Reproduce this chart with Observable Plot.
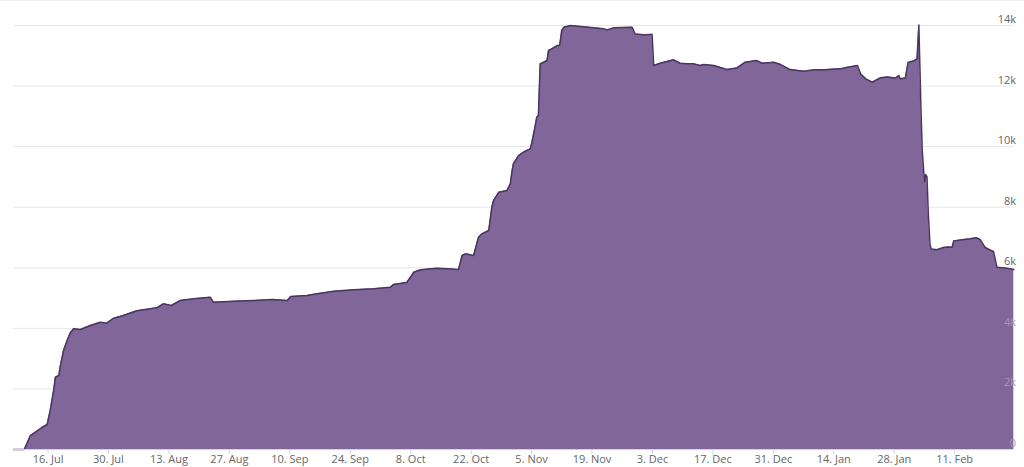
<!DOCTYPE html>
<html>
<head>
<meta charset="utf-8">
<script src="https://cdn.jsdelivr.net/npm/d3@7"></script>
<script src="https://cdn.jsdelivr.net/npm/@observablehq/plot@0.6"></script>
<style>
  html, body { margin: 0; padding: 0; background: #fff; }
  #chart { position: relative; width: 1024px; height: 467px; overflow: hidden; }
  #chart svg { display: block; }
  #topline { position: absolute; left: 0; right: 0; top: 0; height: 1px; background: #ececec; }
</style>
</head>
<body>
<div id="chart"><div id="topline"></div></div>
<script>
// Series timestamps (UTC)
const dates = [
  "2018-07-08T00:00","2018-07-10T12:00","2018-07-11T22:00","2018-07-13T02:00","2018-07-14T14:00",
  "2018-07-15T19:00","2018-07-16T12:00","2018-07-17T07:00","2018-07-17T17:00","2018-07-18T12:00",
  "2018-07-18T19:00","2018-07-19T14:00","2018-07-20T10:00","2018-07-21T02:00","2018-07-21T22:00",
  "2018-07-23T12:00","2018-07-25T19:00","2018-07-28T02:00","2018-07-29T14:00","2018-07-31T02:00",
  "2018-08-02T10:00","2018-08-05T14:00","2018-08-10T05:00","2018-08-11T17:00","2018-08-13T14:00",
  "2018-08-15T14:00","2018-08-18T17:00","2018-08-22T14:00","2018-08-23T07:00","2018-08-28T00:00",
  "2018-09-01T14:00","2018-09-05T22:00","2018-09-09T10:00","2018-09-10T05:00","2018-09-14T00:00",
  "2018-09-16T07:00","2018-09-20T05:00","2018-09-24T19:00","2018-09-29T10:00","2018-10-03T07:00",
  "2018-10-04T00:00","2018-10-07T02:00","2018-10-08T02:00","2018-10-08T17:00","2018-10-10T07:00",
  "2018-10-14T02:00","2018-10-16T10:00","2018-10-19T02:00","2018-10-19T22:00","2018-10-20T17:00",
  "2018-10-22T14:00","2018-10-23T17:00","2018-10-24T12:00","2018-10-26T02:00","2018-10-26T19:00",
  "2018-10-27T05:00","2018-10-28T10:00","2018-10-30T07:00","2018-10-31T02:00","2018-10-31T12:00",
  "2018-10-31T19:00","2018-11-02T00:00","2018-11-03T02:00","2018-11-04T17:00","2018-11-05T02:00",
  "2018-11-05T19:00","2018-11-06T05:00","2018-11-06T14:00","2018-11-07T00:00","2018-11-07T19:00",
  "2018-11-08T14:00","2018-11-08T22:00","2018-11-09T17:00","2018-11-10T22:00","2018-11-11T12:00",
  "2018-11-12T00:00","2018-11-12T12:00","2018-11-14T00:00","2018-11-16T07:00","2018-11-19T10:00",
  "2018-11-21T17:00","2018-11-22T14:00","2018-11-24T00:00","2018-11-28T07:00","2018-11-29T00:00",
  "2018-12-01T00:00","2018-12-02T22:00","2018-12-03T07:00","2018-12-04T19:00","2018-12-07T22:00",
  "2018-12-09T00:00","2018-12-09T10:00","2018-12-11T00:00","2018-12-12T12:00","2018-12-14T00:00",
  "2018-12-14T22:00","2018-12-17T05:00","2018-12-20T07:00","2018-12-22T14:00","2018-12-24T12:00",
  "2018-12-27T05:00","2018-12-28T10:00","2018-12-31T02:00","2019-01-01T17:00","2019-01-03T22:00",
  "2019-01-07T00:00","2019-01-09T07:00","2019-01-11T14:00","2019-01-15T12:00","2019-01-17T05:00",
  "2019-01-19T12:00","2019-01-20T05:00","2019-01-21T10:00","2019-01-22T22:00","2019-01-24T19:00",
  "2019-01-26T10:00","2019-01-28T07:00","2019-01-29T02:00","2019-01-29T10:00","2019-01-30T14:00",
  "2019-01-31T05:00","2019-02-01T10:00","2019-02-02T07:00","2019-02-02T17:00","2019-02-03T05:00",
  "2019-02-03T12:00","2019-02-03T22:00","2019-02-04T02:00","2019-02-04T07:00","2019-02-04T14:00",
  "2019-02-04T22:00","2019-02-05T07:00","2019-02-05T14:00","2019-02-06T22:00","2019-02-08T10:00",
  "2019-02-09T14:00","2019-02-10T10:00","2019-02-10T19:00","2019-02-12T07:00","2019-02-14T14:00",
  "2019-02-16T02:00","2019-02-16T22:00","2019-02-18T02:00","2019-02-19T05:00","2019-02-20T00:00",
  "2019-02-20T19:00","2019-02-23T02:00","2019-02-24T17:00"
];
// Series values
const values = [
  0,0,462,571,726,
  825,1288,1948,2387,2443,
  2717,3268,3599,3830,3985,
  3962,4094,4203,4170,4325,
  4424,4580,4678,4810,4754,
  4919,4975,5028,4863,4896,
  4919,4952,4919,5051,5084,
  5140,5226,5272,5305,5358,
  5447,5513,5711,5853,5933,
  5986,5966,5942,6405,6461,
  6405,7009,7121,7230,7999,
  8221,8495,8551,8772,9211,
  9432,9706,9815,9927,10145,
  10641,10971,11027,12734,12786,
  12843,13173,13229,13338,13338,
  13833,13942,13998,13965,13922,
  13889,13856,13922,13942,13717,
  13691,13707,12678,12754,12866,
  12787,12753,12734,12734,12678,
  12710,12677,12545,12601,12787,
  12843,12753,12786,12710,12545,
  12489,12535,12535,12568,12621,
  12677,12403,12238,12126,12271,
  12298,12265,12347,12238,12265,
  12777,12826,12899,14015,11192,
  9871,9013,8848,9079,9013,
  7725,6768,6619,6593,6669,
  6685,6679,6884,6917,6956,
  6989,6933,6669,6586,6537,
  6019,5986,5943
];
// Axis ticks
const xTickDates = ["2018-07-16","2018-07-30","2018-08-13","2018-08-27","2018-09-10","2018-09-24",
  "2018-10-08","2018-10-22","2018-11-05","2018-11-19","2018-12-03","2018-12-17","2018-12-31",
  "2019-01-14","2019-01-28","2019-02-11"];
const yTicks = [0,2000,4000,6000,8000,10000,12000,14000];
const yTickLabels = ["0","2k","4k","6k","8k","10k","12k","14k"];
const xDomain = ["2018-07-08T00:00","2019-02-24T18:00"];

const parse = s => new Date(s.length === 10 ? s + "T00:00Z" : s + "Z");
const data = dates.map((d, i) => ({date: parse(d), value: values[i]}));
const yLabelData = yTicks.map((v, i) => ({v, label: yTickLabels[i]}));
const fmt = d3.utcFormat("%-d. %b");

const chart = Plot.plot({
  width: 1024,
  height: 467,
  marginLeft: 13,
  marginRight: 10.5,
  marginTop: 25,
  marginBottom: 18,
  style: {fontFamily: "'Open Sans', sans-serif", fontSize: "11px", background: "#fff", color: "#666"},
  x: {type: "utc", domain: xDomain.map(parse), axis: null},
  y: {domain: [0, 14000], axis: null},
  marks: [
    Plot.gridY(yTicks, {stroke: "#e6e6e6", strokeOpacity: 1}),
    Plot.text(yLabelData.filter(d => d.v >= 6000), {y: "v", text: "label", frameAnchor: "right", textAnchor: "end", dx: 2, dy: -6, fill: "#666"}),
    Plot.areaY(data, {x: "date", y: "value", fill: "#806699"}),
    Plot.lineY(data, {x: "date", y: "value", stroke: "#4a3560", strokeWidth: 1.5}),
    Plot.text(yLabelData.filter(d => d.v < 6000), {y: "v", text: "label", frameAnchor: "right", textAnchor: "end", dx: 2, dy: -6, fill: "#a897b8"}),
    Plot.ruleY([0], {stroke: "#ccd6eb"}),
    Plot.axisX(xTickDates.map(parse), {tickFormat: fmt, tickSize: 5, tickPadding: 1, stroke: "#ccd6eb", fill: "#666", label: null}),
  ]
});
document.getElementById("chart").appendChild(chart);
</script>
</body>
</html>
